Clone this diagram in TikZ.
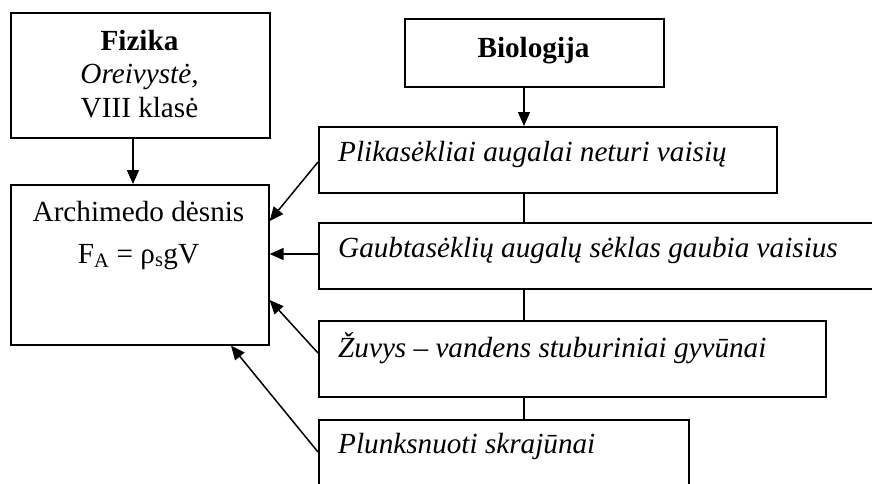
\documentclass[tikz,border=0pt]{standalone}
\usepackage{fontspec}
\setmainfont{Liberation Serif}
\usetikzlibrary{arrows.meta}
\begin{document}
\begin{tikzpicture}[x=1pt,y=-1pt,
  box/.style={draw, line width=1.6pt, inner sep=0pt, anchor=north west},
  lbl/.style={inner sep=0pt, anchor=base, font=\fontsize{29.2}{33}\selectfont},
  llbl/.style={inner sep=0pt, anchor=base west, font=\fontsize{29.2}{33}\selectfont\itshape},
  arr/.style={line width=1.5pt, -{Triangle[length=14pt,width=12pt]}},
  conn/.style={line width=1.5pt}]
\useasboundingbox (0,0) rectangle (872,483);
\clip (0,0) rectangle (872,483);
% boxes
\node[box, minimum width=259pt, minimum height=125pt] (fiz) at (10,12) {};
\node[box, minimum width=258pt, minimum height=160pt] (arch) at (10,184) {};
\node[box, minimum width=259pt, minimum height=68pt] (bio) at (404,18) {};
\node[box, minimum width=458pt, minimum height=66pt] (plik) at (318,126) {};
\node[box, minimum width=600pt, minimum height=66pt] (gaub) at (318,222) {};
\node[box, minimum width=507pt, minimum height=76pt] (zuv) at (318,320) {};
\node[box, minimum width=370pt, minimum height=100pt] (plu) at (318,419) {};
% texts
\node[lbl, font=\fontsize{29.2}{33}\selectfont\bfseries] (t1) at (139.5,50) {Fizika};
\node[lbl, font=\fontsize{29.2}{33}\selectfont\itshape] (t2) at (139.5,83) {Oreivystė,};
\node[lbl] (t3) at (139.5,117) {VIII klasė};
\node[lbl] (t4) at (138.5,221) {Archimedo dėsnis};
\node[lbl] (t5) at (138.5,263) {F\textsubscript{A} = ρ\textsubscript{s}gV};
\node[lbl, font=\fontsize{29.2}{33}\selectfont\bfseries] (t6) at (533.5,57) {Biologija};
\node[llbl] (t7) at (338,161) {Plikasėkliai augalai neturi vaisių};
\node[llbl] (t8) at (338,257) {Gaubtasėklių augalų sėklas gaubia vaisius};
\node[llbl] (t9) at (338,357) {Žuvys – vandens stuburiniai gyvūnai};
\node[llbl] (t10) at (338,453) {Plunksnuoti skrajūnai};
% connectors
\draw[arr] ([xshift=123pt]fiz.south west) -- ([xshift=123pt]arch.north west);
\draw[arr] ([xshift=120pt]bio.south west) -- ([xshift=206pt]plik.north west);
\draw[conn] ([xshift=206pt]plik.south west) -- ([xshift=206pt]gaub.north west);
\draw[conn] ([xshift=206pt]gaub.south west) -- ([xshift=206pt]zuv.north west);
\draw[conn] ([xshift=206pt]zuv.south west) -- ([xshift=206pt]plu.north west);
\draw[arr] ([yshift=-36pt]plik.north west) -- ([yshift=-37pt]arch.north east);
\draw[arr] ([yshift=-32pt]gaub.north west) -- ([yshift=-70pt]arch.north east);
\draw[arr] ([yshift=-33pt]zuv.north west) -- ([yshift=-116pt]arch.north east);
\draw[arr] ([yshift=-33pt]plu.north west) -- ([xshift=221pt]arch.south west);
\end{tikzpicture}
\end{document}
